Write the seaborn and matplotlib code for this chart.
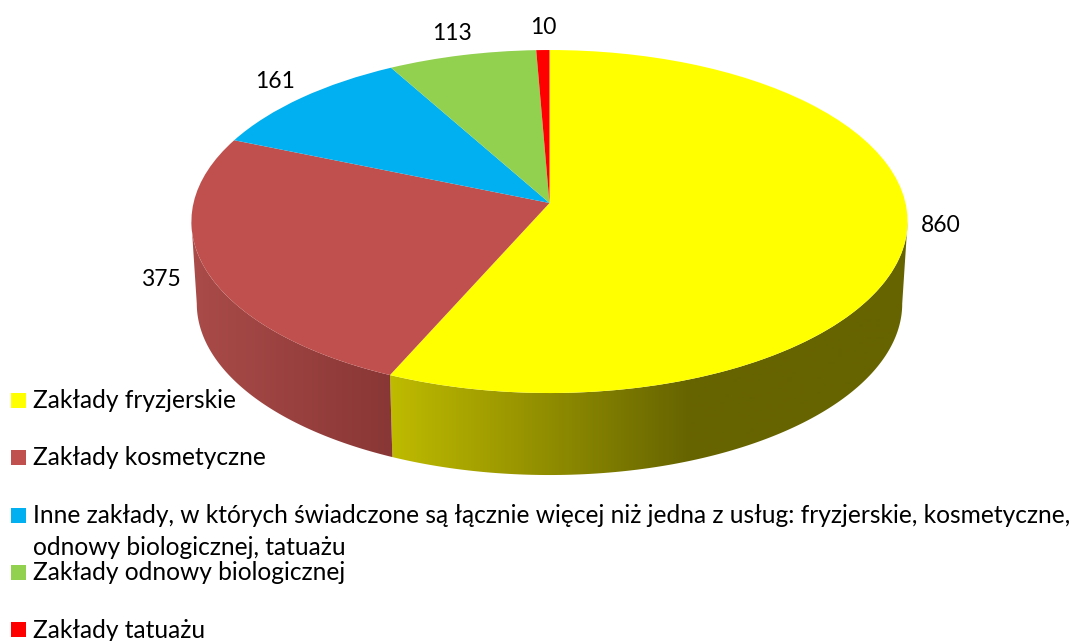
import numpy as np
import matplotlib
matplotlib.use('Agg')
import matplotlib.pyplot as plt
import matplotlib.transforms as mtransforms
from matplotlib.patches import Polygon, Rectangle
import seaborn as sns

# data
categories = ['Zakłady fryzjerskie', 'Zakłady kosmetyczne',
              'Inne zakłady, w których świadczone są łącznie więcej niż jedna z usług: fryzjerskie, kosmetyczne,\nodnowy biologicznej, tatuażu',
              'Zakłady odnowy biologicznej', 'Zakłady tatuażu']
values = [860, 375, 161, 113, 10]
colors = sns.color_palette(['#FFFF00', '#C0504D', '#00B0F0', '#92D050', '#FF0000'])

# layout in pixels
label_pos = [(941, 225), (161, 280), (275, 81), (452, 34), (543, 27)]
legend_base = [408, 465, 523, 580, 638]
legend_box = [393, 450, 508, 565, 622]
cx, cy = 549.5, 203
a, b, k = 356, 169.5, 0.108
depth = 82
shrink = 0.985

# shading of the side wall: x start, x end, colour start, colour end
wall_shade = {0: (390, 690, '#BFBB00', '#666400'), 1: (197, 390, '#A94B48', '#893736')}


class Perspective(mtransforms.Transform):
    input_dims = output_dims = 2

    def transform_non_affine(self, xy):
        xy = np.asarray(xy, dtype=float)
        w = 1 + k * xy[:, 1]
        return np.column_stack([cx + a * xy[:, 0] / w, cy - b * xy[:, 1] / w])


sns.set_theme(style='white')
plt.rcParams['font.family'] = ['Lato', 'DejaVu Sans']

fig = plt.figure(figsize=(10.73, 6.41), dpi=100)
ax = fig.add_axes([0, 0, 1, 1])

wedges, _ = ax.pie(values, colors=colors, startangle=90, counterclock=False,
                   wedgeprops={'linewidth': 0, 'zorder': 3})
persp = Perspective()
for w in wedges:
    w.set_transform(persp + ax.transData)

# side wall, between the two widest points of the rim
left_end = 180 + np.degrees(np.arcsin(k))
right_end = 360 - np.degrees(np.arcsin(k))
xs = np.linspace(0, 1073, 1074)
for i, (x0, x1, c0, c1) in wall_shade.items():
    w = wedges[i]
    t1 = max(w.theta1 % 360, left_end)
    t2 = w.theta2 % 360
    if t2 <= t1:
        t2 = right_end
    t = np.radians(np.linspace(t1, t2, 200))
    top = persp.transform(np.column_stack([np.cos(t), np.sin(t)]))
    bottom = np.column_stack([cx + (top[:, 0] - cx) * shrink, top[:, 1] + depth])
    poly = Polygon(np.vstack([top, bottom[::-1]]), closed=True, fc='none', ec='none')
    ax.add_patch(poly)
    rgb0 = np.array(matplotlib.colors.to_rgb(c0))
    rgb1 = np.array(matplotlib.colors.to_rgb(c1))
    frac = np.clip((xs - x0) / (x1 - x0), 0, 1)[None, :, None]
    im = ax.imshow(rgb0 + (rgb1 - rgb0) * frac, extent=(0, 1073, 641, 0), aspect='auto', zorder=2)
    im.set_clip_path(poly)

ax.set_aspect('auto')
ax.set_xlim(0, 1073)
ax.set_ylim(641, 0)
ax.axis('off')

# value labels
for v, (x, y) in zip(values, label_pos):
    ax.text(x, y, str(v), ha='center', va='center', fontsize=16.5, color='black', zorder=5)

# legend
for cat, col, base, box in zip(categories, colors, legend_base, legend_box):
    ax.add_patch(Rectangle((11, box), 15, 15, fc=col, ec='none', zorder=5))
    lines = cat.split('\n')
    ax.text(33, base, lines[0], ha='left', va='baseline', fontsize=17.65, color='black', zorder=5)
    if len(lines) > 1:
        ax.text(33, base + 32, lines[1], ha='left', va='baseline', fontsize=17.65, color='black', zorder=5)

fig.savefig('out.png', dpi=100)
